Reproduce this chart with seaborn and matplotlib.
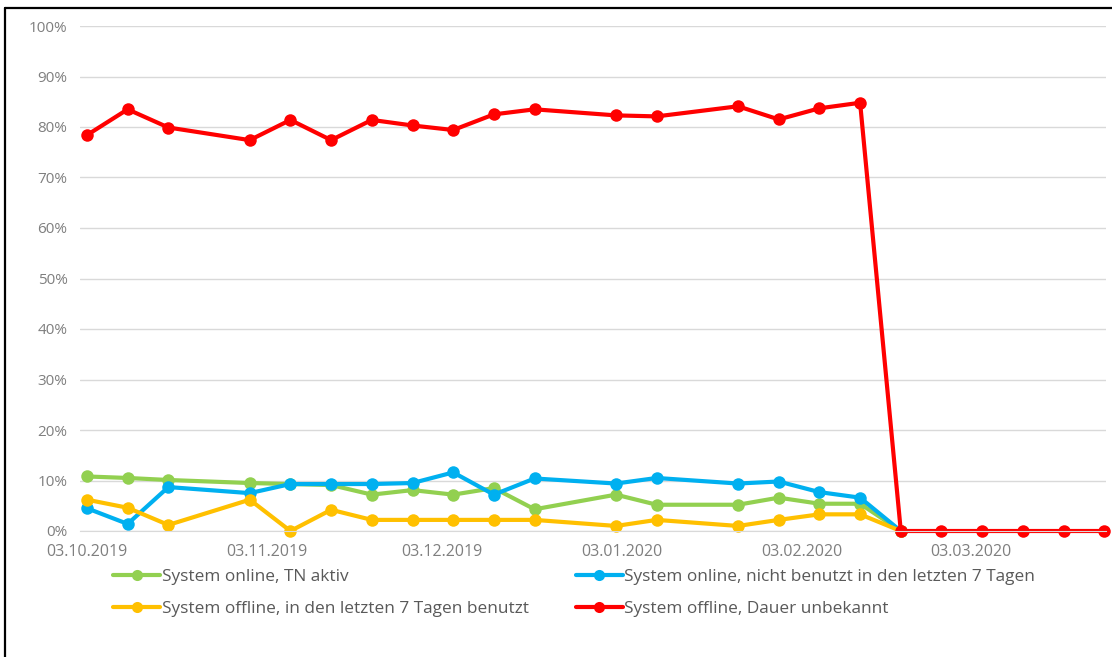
import pandas as pd
import numpy as np
import matplotlib
matplotlib.use("Agg")
import matplotlib.pyplot as plt
import matplotlib.dates as mdates
from matplotlib.lines import Line2D
from matplotlib.ticker import PercentFormatter
import seaborn as sns

# --- Data ---
dates = ["2019-10-03", "2019-10-10", "2019-10-17", "2019-10-31", "2019-11-07",
         "2019-11-14", "2019-11-21", "2019-11-28", "2019-12-05", "2019-12-12",
         "2019-12-19", "2020-01-02", "2020-01-09", "2020-01-23", "2020-01-30",
         "2020-02-06", "2020-02-13", "2020-02-20", "2020-02-27", "2020-03-05",
         "2020-03-12", "2020-03-19", "2020-03-26"]

online_aktiv = [10.8, 10.5, 10.1, 9.5, 9.3, 9.1, 7.2, 8.1, 7.2, 8.5, 4.3,
                7.2, 5.2, 5.2, 6.6, 5.4, 5.4, 0.0]
online_unbenutzt = [4.5, 1.4, 8.7, 7.5, 9.3, 9.3, 9.3, 9.5, 11.6, 7.2, 10.4,
                    9.4, 10.5, 9.4, 9.8, 7.7, 6.6, 0.0]
offline_benutzt = [6.2, 4.6, 1.2, 6.2, 0.0, 4.2, 2.2, 2.2, 2.2, 2.2, 2.2,
                   1.0, 2.2, 1.0, 2.2, 3.3, 3.3, 0.0]
offline_unbekannt = [78.4, 83.5, 79.9, 77.4, 81.4, 77.4, 81.4, 80.3, 79.4, 82.5,
                     83.5, 82.3, 82.1, 84.1, 81.5, 83.7, 84.8, 0.0, 0.0, 0.0,
                     0.0, 0.0, 0.0]

series_names = ["System online, TN aktiv",
                "System online, nicht benutzt in den letzten 7 Tagen",
                "System offline, in den letzten 7 Tagen benutzt",
                "System offline, Dauer unbekannt"]
series_values = [online_aktiv, online_unbenutzt, offline_benutzt, offline_unbekannt]
colors = ["#92D050", "#00B0F0", "#FFC000", "#FF0000"]

month_ticks = ["2019-10-03", "2019-11-03", "2019-12-03",
               "2020-01-03", "2020-02-03", "2020-03-03"]

# long table for seaborn
rows = []
for name, vals in zip(series_names, series_values):
    for d, v in zip(dates, vals):
        rows.append({"Datum": pd.Timestamp(d), "Anteil": v / 100.0, "Status": name})
df = pd.DataFrame(rows)

sns.set_style("white")
plt.rcParams["font.family"] = ["Open Sans", "DejaVu Sans"]

fig = plt.figure(figsize=(11.12, 6.57), dpi=100)
ax = fig.add_axes([80 / 1112, (657 - 531) / 657, (1106 - 80) / 1112, (531 - 26) / 657])

sns.lineplot(data=df, x="Datum", y="Anteil", hue="Status", hue_order=series_names,
             palette=colors, marker="o", markersize=9, markeredgewidth=0,
             linewidth=3, legend=False, ax=ax, clip_on=False)

ax.set_ylim(0, 1.0)
ax.set_xlim(pd.Timestamp(dates[0]) - pd.Timedelta(days=1.2),
            pd.Timestamp(dates[-1]) + pd.Timedelta(days=0.3))
ax.set_yticks(np.arange(0, 1.01, 0.1))
ax.yaxis.set_major_formatter(PercentFormatter(1.0, decimals=0))
ax.set_xticks([pd.Timestamp(t) for t in month_ticks])
ax.xaxis.set_major_formatter(mdates.DateFormatter("%d.%m.%Y"))

ax.grid(axis="y", color="#D9D9D9", linewidth=1)
ax.set_axisbelow(True)
for s in ["top", "right", "left"]:
    ax.spines[s].set_visible(False)
ax.spines["bottom"].set_color("#D9D9D9")
ax.tick_params(axis="y", length=0, labelsize=11, labelcolor="#7F7F7F", pad=9)
ax.tick_params(axis="x", length=4, color="#D9D9D9", direction="out",
               labelsize=11.5, labelcolor="#7F7F7F", pad=5)
ax.set_xlabel("")
ax.set_ylabel("")

# legend, two columns
handles = [Line2D([0], [0], color=c, linewidth=3, marker="o", markersize=8,
                  markeredgewidth=0) for c in colors]
order = [0, 2, 1, 3]
fig.legend([handles[i] for i in order], [series_names[i] for i in order],
           loc="upper left", bbox_to_anchor=(98 / 1112, 1 - 553 / 657),
           ncol=2, frameon=False, fontsize=12.4, labelcolor="#595959",
           handlelength=2.7, handletextpad=0.1, columnspacing=2.75,
           labelspacing=0.95)

# black frame edges of the cropped screenshot
fig.add_artist(Line2D([5 / 1112, 5 / 1112], [0, 1 - 8 / 657], color="black",
                      linewidth=1.6, transform=fig.transFigure))
fig.add_artist(Line2D([5 / 1112, 1], [1 - 8 / 657, 1 - 8 / 657], color="black",
                      linewidth=1.6, transform=fig.transFigure))

fig.savefig("out.png", dpi=100)
